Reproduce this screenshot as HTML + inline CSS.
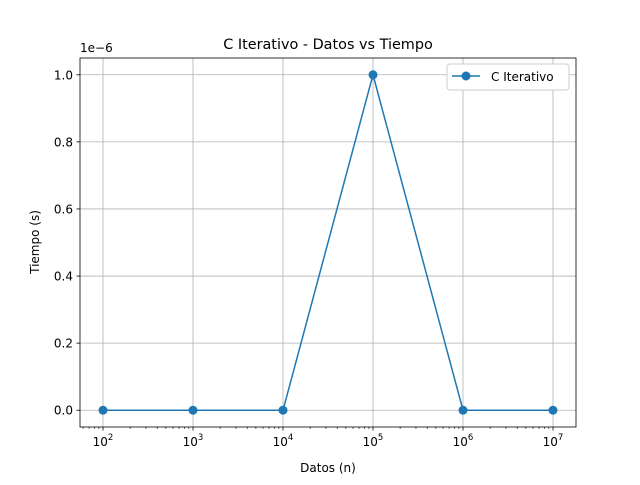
<!DOCTYPE html>
<html><head><meta charset="utf-8"><style>
body{margin:0;background:#fff}
svg text{font-family:"DejaVu Sans","Liberation Sans",sans-serif;fill:#000}
</style></head><body>
<svg id="c" width="640" height="480" xmlns="http://www.w3.org/2000/svg">
<rect width="640" height="480" fill="#fff"/>
<g id="grid"></g>
<g id="axes"></g>
<g id="series"></g>
<text x="328" y="49" font-size="14.4" text-anchor="middle">C Iterativo - Datos vs Tiempo</text>
<text x="328" y="472" font-size="12" text-anchor="middle">Datos (n)</text>
<text transform="translate(39,242) rotate(-90)" font-size="12" text-anchor="middle">Tiempo (s)</text>
<text x="80" y="52" font-size="12">1e−6</text>
<g>
<rect x="447" y="64" width="122" height="26" rx="3" fill="#fff" stroke="#ccc" stroke-width="1"/>
<line x1="452" y1="76" x2="480" y2="76" stroke="#1f77b4" stroke-width="1.5"/>
<circle cx="466" cy="76" r="4.5" fill="#1f77b4"/>
<text x="491" y="81" font-size="12">C Iterativo</text>
</g>
</svg>
<script>
const xValues=[1e2,1e3,1e4,1e5,1e6,1e7];
const yValues=[0,0,0,1.0,0,0];
const yTicks=[0,0.2,0.4,0.6,0.8,1.0];
const yTickLabels=["0.0","0.2","0.4","0.6","0.8","1.0"];
const xTickExp=[2,3,4,5,6,7];
const L=80,R=576,T=58,B=427;
const xLo=Math.log10(1e2)-23/90, xHi=Math.log10(1e7)+23/90;
const yLo=-0.05, yHi=1.05;
const xs=v=>L+(Math.log10(v)-xLo)/(xHi-xLo)*(R-L);
const ys=v=>B-(v-yLo)/(yHi-yLo)*(B-T);
const NS="http://www.w3.org/2000/svg";
function mk(p,t,a){const e=document.createElementNS(NS,t);for(const k in a)e.setAttribute(k,a[k]);p.appendChild(e);return e;}
const grid=document.getElementById('grid'),axes=document.getElementById('axes'),ser=document.getElementById('series');
xTickExp.forEach(p=>{const x=xs(Math.pow(10,p));
 const g=mk(grid,'line',{x1:x,x2:x,y1:T,y2:B,stroke:'#b0b0b0','stroke-width':0.8});
 
 
 mk(axes,'line',{x1:x,x2:x,y1:B,y2:B+3.5,stroke:'#000','stroke-width':0.8});
 const t=mk(axes,'text',{x:x,y:B+19,'font-size':12,'text-anchor':'middle'});
 
 
 t.textContent='10';const s=mk(t,'tspan',{dy:-6,'font-size':8.5});s.textContent=p;});
for(let p=1;p<=7;p++)for(let m=2;m<=9;m++){const v=m*Math.pow(10,p),lv=Math.log10(v);
 if(lv<xLo||lv>xHi)continue;const x=xs(v);
 mk(axes,'line',{x1:x,x2:x,y1:B,y2:B+2,stroke:'#000','stroke-width':0.6});}
yTicks.forEach((v,i)=>{const y=ys(v);
 const g=mk(grid,'line',{x1:L,x2:R,y1:y,y2:y,stroke:'#b0b0b0','stroke-width':0.8});
 
 
 mk(axes,'line',{x1:L-3.5,x2:L,y1:y,y2:y,stroke:'#000','stroke-width':0.8});
 const t=mk(axes,'text',{x:L-7,y:y+4.5,'font-size':12,'text-anchor':'end'});
 
 
 t.textContent=yTickLabels[i];});
const fr=mk(axes,'rect',{x:L,y:T,width:R-L,height:B-T,fill:'none',stroke:'#000','stroke-width':0.8});


const pts=xValues.map((v,i)=>xs(v)+','+ys(yValues[i])).join(' ');
const pl=mk(ser,'polyline',{points:pts,fill:'none',stroke:'#1f77b4','stroke-width':1.5});


xValues.forEach((v,i)=>{const c=mk(ser,'circle',{cx:xs(v),cy:ys(yValues[i]),r:4.5,fill:'#1f77b4'});
 
 });
</script>
</body></html>
